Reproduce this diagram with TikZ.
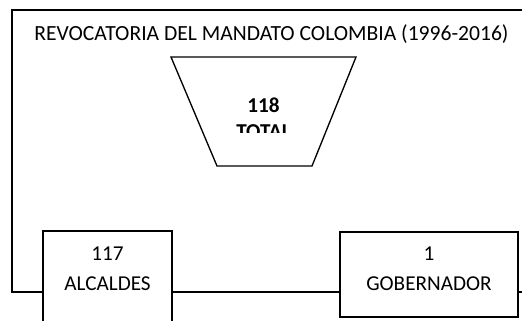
\documentclass[tikz,border=0pt]{standalone}
\usepackage{fontspec}
\setmainfont{Carlito}
\usetikzlibrary{positioning}

\begin{document}
\begin{tikzpicture}[
  x=0.75pt, y=-0.75pt,
  every node/.style={font=\fontsize{15.9}{19}\selectfont, inner sep=0pt},
  box/.style={draw, line width=1pt, fill=white, rectangle, outer sep=0pt},
  lbl/.style={anchor=base},
  numfont/.style={font=\bfseries\fontsize{15.9}{19}\selectfont},
]
\useasboundingbox (0,0) rectangle (522,321);
\clip (0,0) rectangle (522,321);

% outer frame
\draw[line width=1pt] (12,10) rectangle (540,292);

% title
\node[lbl, font=\fontsize{16.2}{19}\selectfont] (title) at (271.5,41) {REVOCATORIA DEL MANDATO COLOMBIA (1996-2016)};

% funnel
\draw[line width=1pt] (171,57) -- (356,57) -- (312,166) -- (217,166) -- cycle;
\node[lbl, numfont] (total) at (263.5,112.7) {118};
\begin{scope}
  \clip (150,57) rectangle (380,133);
  \node[lbl, numfont] (totaltxt) at (263.5,138.7) {TOTAL};
\end{scope}

% alcaldes
\node[box, anchor=north west, minimum width=96.75pt, minimum height=82.5pt] (alc) at (43,231) {};
\node[lbl] (alcnum) at (alc.north |- 0,260.7) {117};
\node[lbl] (alctxt) at (alc.north |- 0,291) {ALCALDES};

% gobernador
\node[box, anchor=north west, minimum width=133.5pt, minimum height=63.75pt] (gob) at (340,232) {};
\node[lbl] (gobnum) at (gob.north |- 0,260.7) {1};
\node[lbl] (gobtxt) at (gob.north |- 0,291) {GOBERNADOR};

\end{tikzpicture}
\end{document}
